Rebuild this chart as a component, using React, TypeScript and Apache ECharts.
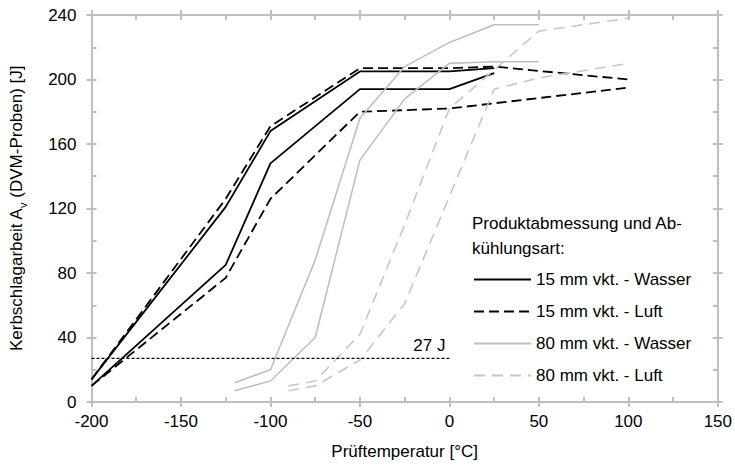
import React, { useEffect, useRef } from "react";
import * as echarts from "echarts";

// ---- Data ----
const xTicks = [-200, -150, -100, -50, 0, 50, 100, 150];
const yTicks = [0, 40, 80, 120, 160, 200, 240];

const w15A_T = [-200, -125, -100, -50, 0, 25];
const w15A_V = [14, 121, 168, 205, 205, 207];
const w15B_T = [-200, -125, -100, -50, 0, 25];
const w15B_V = [10, 85, 148, 194, 194, 204];

const l15A_T = [-200, -125, -100, -50, 0, 25, 100];
const l15A_V = [14, 126, 171, 207, 207, 208, 200];
const l15B_T = [-200, -125, -100, -50, 0, 100];
const l15B_V = [10, 77, 126, 180, 182, 195];

const w80A_T = [-120, -100, -75, -50, -25, 0, 25, 50];
const w80A_V = [12, 20, 88, 176, 208, 223, 234, 234];
const w80B_T = [-120, -100, -75, -50, -25, 0, 25, 50];
const w80B_V = [7, 13, 40, 150, 188, 210, 211, 211];

const l80A_T = [-90, -75, -50, -25, 0, 50, 100];
const l80A_V = [10, 13, 42, 110, 182, 230, 238];
const l80B_T = [-90, -75, -50, -25, 25, 50, 100];
const l80B_V = [7, 10, 26, 61, 194, 201, 210];

const limitT = [-200, 0];
const limitV = [27, 27];
const limitLabel = "27 J";

const names = [
  "15 mm vkt. - Wasser",
  "15 mm vkt. - Luft",
  "80 mm vkt. - Wasser",
  "80 mm vkt. - Luft",
];

const pairs = (t: number[], v: number[]) => t.map((x, i) => [x, v[i]]);

const FONT = "'Liberation Sans', Arial, sans-serif";
const AXIS_COLOR = "#BFBFBF";

export default function App() {
  const ref = useRef<HTMLDivElement>(null);

  useEffect(() => {
    if (!ref.current) return;
    const chart = echarts.init(ref.current, undefined, { renderer: "svg" });

    const xBase = {
      type: "value",
      min: xTicks[0],
      max: xTicks[xTicks.length - 1],
      interval: 50,
      splitLine: { show: false },
      axisLine: { show: true, onZero: false, lineStyle: { color: AXIS_COLOR, width: 2 } },
    };
    const yBase = {
      type: "value",
      min: yTicks[0],
      max: yTicks[yTicks.length - 1],
      interval: 40,
      splitLine: { show: false },
      axisLine: { show: true, onZero: false, lineStyle: { color: AXIS_COLOR, width: 2 } },
    };
    const tickOut = { show: true, inside: false, length: 5, lineStyle: { color: AXIS_COLOR, width: 2 } };
    const tickIn = { show: true, inside: true, length: 5, lineStyle: { color: AXIS_COLOR, width: 2 } };
    const minorIn = { show: true, splitNumber: 2, length: 5, lineStyle: { color: AXIS_COLOR, width: 2 } };

    const black = "#000000";
    const gray = "#BFBFBF";
    const grayD = "#C6C6C6";

    const mk = (name: string, t: number[], v: number[], color: string, type: any, width: number) => ({
      type: "line",
      name,
      data: pairs(t, v),
      xAxisIndex: 0,
      yAxisIndex: 0,
      symbol: "none",
      showSymbol: false,
      lineStyle: { color, type, width },
      itemStyle: { color },
      silent: true,
    });

    const option: any = {
      animation: false,
      textStyle: { fontFamily: FONT },
      grid: { left: 91, right: 16, top: 15, bottom: 67 },
      title: {
        text: "Produktabmessung und Ab-\nkühlungsart:",
        left: 472,
        top: 211,
        padding: 0,
        textStyle: { fontSize: 17, fontWeight: "normal", color: "#000", lineHeight: 25, fontFamily: FONT },
      },
      legend: {
        orient: "vertical",
        left: 473,
        top: 271,
        padding: 0,
        itemWidth: 57,
        itemHeight: 17,
        itemGap: 15,
        data: names,
        selectedMode: false,
        itemStyle: { opacity: 0 },
        textStyle: { fontSize: 17, color: "#000", fontFamily: FONT },
      },
      xAxis: [
        {
          ...xBase,
          position: "bottom",
          name: "Prüftemperatur [°C]",
          nameLocation: "middle",
          nameGap: 41,
          nameTextStyle: { fontSize: 17, color: "#000", fontFamily: FONT },
          axisTick: tickOut,
          minorTick: { show: false },
          axisLabel: { show: true, fontSize: 17, color: "#000", margin: 11, fontFamily: FONT },
        },
        { ...xBase, position: "bottom", axisTick: tickIn, minorTick: minorIn, axisLabel: { show: false } },
        { ...xBase, position: "top", axisTick: tickOut, minorTick: { show: false }, axisLabel: { show: false } },
        { ...xBase, position: "top", axisTick: tickIn, minorTick: minorIn, axisLabel: { show: false } },
      ],
      yAxis: [
        {
          ...yBase,
          position: "left",
          name: "Kerbschlagarbeit A{sub|v} (DVM-Proben) [J]",
          nameLocation: "middle",
          nameGap: 63,
          nameTextStyle: {
            fontSize: 17,
            color: "#000",
            fontFamily: FONT,
            rich: {
              sub: { fontSize: 11, verticalAlign: "bottom", lineHeight: 24, color: "#000", fontFamily: FONT },
            },
          },
          axisTick: tickOut,
          minorTick: { show: false },
          axisLabel: { show: true, fontSize: 17, color: "#000", margin: 15, fontFamily: FONT },
        },
        { ...yBase, position: "left", axisTick: tickIn, minorTick: minorIn, axisLabel: { show: false } },
        { ...yBase, position: "right", axisTick: tickOut, minorTick: { show: false }, axisLabel: { show: false } },
        { ...yBase, position: "right", axisTick: tickIn, minorTick: minorIn, axisLabel: { show: false } },
      ],
      series: [
        mk(names[0], w15A_T, w15A_V, black, "solid", 1.8),
        mk(names[0], w15B_T, w15B_V, black, "solid", 1.8),
        mk(names[1], l15A_T, l15A_V, black, [10, 5], 1.8),
        mk(names[1], l15B_T, l15B_V, black, [10, 5], 1.8),
        mk(names[2], w80A_T, w80A_V, gray, "solid", 1.6),
        mk(names[2], w80B_T, w80B_V, gray, "solid", 1.6),
        mk(names[3], l80A_T, l80A_V, grayD, [11, 7], 1.6),
        mk(names[3], l80B_T, l80B_V, grayD, [11, 7], 1.6),
        {
          type: "line",
          name: limitLabel,
          xAxisIndex: 0,
          yAxisIndex: 0,
          symbol: "none",
          silent: true,
          lineStyle: { color: "#000", type: [3, 2], width: 1.3 },
          data: pairs(limitT, limitV),
          endLabel: {
            show: true,
            formatter: limitLabel,
            align: "right",
            verticalAlign: "bottom",
            distance: 0,
            offset: [-4, -4],
            fontSize: 17,
            color: "#000",
            fontFamily: FONT,
          },
        },
      ],
    };

    chart.setOption(option);
    return () => chart.dispose();
  }, []);

  return (
    <div
      ref={ref}
      style={{ position: "fixed", left: 0, top: 0, width: 735, height: 469, background: "#fff" }}
    />
  );
}
